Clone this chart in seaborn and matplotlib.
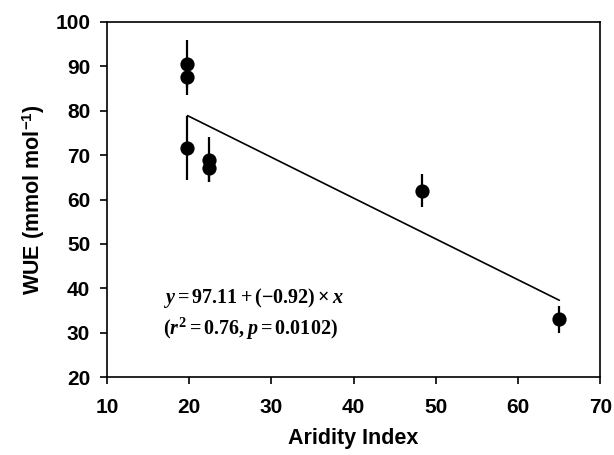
"""
WUE vs aridity index with linear fit.
"""

import matplotlib
matplotlib.use("Agg")
import matplotlib.pyplot as plt
import seaborn as sns
import pandas as pd
import numpy as np

# Data
aridity = [19.8, 19.8, 19.8, 22.4, 22.4, 48.3, 65.0]
wue = [90.5, 87.5, 71.5, 69.0, 67.0, 62.0, 33.0]
wue_err = [5.5, 4.0, 7.2, 5.0, 3.0, 3.7, 3.0]

intercept = 97.11
slope = -0.92
fit_x = [19.8, 65.0]

sns.set_theme(style="white")
plt.rcParams["font.family"] = ["Liberation Sans", "DejaVu Sans"]
plt.rcParams["text.color"] = "black"
plt.rcParams["axes.labelcolor"] = "black"
plt.rcParams["xtick.color"] = "black"
plt.rcParams["ytick.color"] = "black"
plt.rcParams["mathtext.fontset"] = "custom"
plt.rcParams["mathtext.rm"] = "Liberation Serif:bold"
plt.rcParams["mathtext.it"] = "Liberation Serif:bold:italic"
plt.rcParams["mathtext.bf"] = "Liberation Serif:bold"
plt.rcParams["mathtext.sf"] = "Liberation Sans:bold"

df = pd.DataFrame({"aridity": aridity, "wue": wue, "err": wue_err})
fit = pd.DataFrame({"x": fit_x, "y": intercept + slope * np.array(fit_x)})

fig = plt.figure(figsize=(6.14, 4.55), dpi=100)
ax = fig.add_axes([0.174, 0.171, 0.804, 0.781])

ax.errorbar(df["aridity"], df["wue"], yerr=df["err"], fmt="none",
            ecolor="black", elinewidth=1.6, capsize=0, zorder=2)
sns.scatterplot(data=df, x="aridity", y="wue", color="black", s=105,
                edgecolor="black", linewidth=0, ax=ax, zorder=3)
sns.lineplot(data=fit, x="x", y="y", color="black", linewidth=1.2, ax=ax, zorder=1)

ax.set_xlim(10, 70)
ax.set_ylim(20, 100)
ax.set_xticks(range(10, 71, 10))
ax.set_yticks(range(20, 101, 10))
for s in ax.spines.values():
    s.set_color("black")
    s.set_linewidth(1.2)
ax.tick_params(axis="both", direction="out", length=5, width=1.2, color="black",
               labelcolor="black", labelsize=15, bottom=True, left=True, pad=7)
ax.tick_params(axis="x", pad=10)
for lab in ax.get_xticklabels() + ax.get_yticklabels():
    lab.set_fontweight("bold")

ax.set_xlabel("Aridity Index", fontsize=15.5, fontweight="bold", labelpad=8)
ax.set_ylabel("WUE (mmol mol$^{\\mathsf{-1}}$)", fontsize=15.5, fontweight="bold", labelpad=6)

ax.text(0.114, 0.208, r"$y = 97.11 + (-0.92)\times x$", transform=ax.transAxes,
        fontsize=14.5, ha="left", va="baseline")
ax.text(0.114, 0.118, r"$(r^2 = 0.76, p = 0.0102)$", transform=ax.transAxes,
        fontsize=14.5, ha="left", va="baseline")

fig.savefig("out.png", dpi=100)
